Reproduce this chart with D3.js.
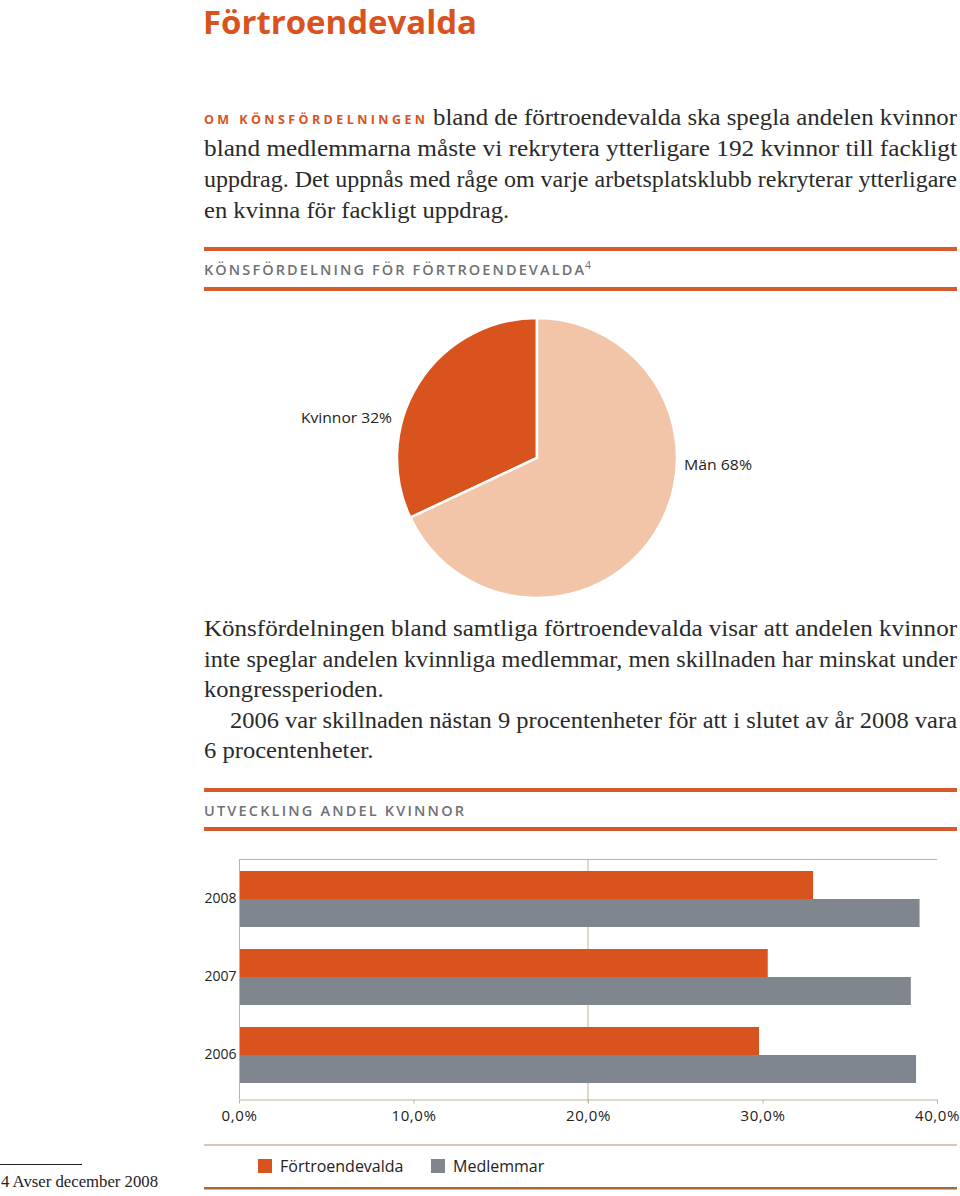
<!DOCTYPE html>
<html><head><meta charset="utf-8">
<script src="https://cdn.jsdelivr.net/npm/d3@7"></script>
<style>
body{margin:0;background:#fff;}
svg{display:block;}
</style></head>
<body>
<script>
// ---- data ----
const pieLabels = ["Kvinnor", "Män"];
const pieValues = [32, 68];
const years = ["2008", "2007", "2006"];
const seriesNames = ["Förtroendevalda", "Medlemmar"];
const fortroendevalda = [32.9, 30.3, 29.8];
const medlemmar = [39.0, 38.5, 38.8];
const xTicks = [0, 10, 20, 30, 40];

const ORANGE = "#d9531e", GRAY = "#7f868d", LIGHT = "#f2c4a8", RULE = "#d65a2a", AX = "#bdb398";
const SANS = "'Open Sans', 'Noto Sans', sans-serif";
const SERIF = "'Liberation Serif', 'Times New Roman', serif";

const svg = d3.select("body").append("svg").attr("width", 960).attr("height", 1196);

// Title
svg.append("text").attr("x", 203).attr("y", 34).text("Förtroendevalda")
  .attr("font-family", SANS).attr("font-weight", 700).attr("font-size", 33)
  .attr("fill", ORANGE).attr("textLength", 274).attr("lengthAdjust", "spacingAndGlyphs");

// paragraph 1
svg.append("text").attr("x", 204).attr("y", 124).text("OM KÖNSFÖRDELNINGEN")
  .attr("font-family", SANS).attr("font-weight", 700).attr("font-size", 12.5)
  .attr("fill", ORANGE).attr("textLength", 221).attr("lengthAdjust", "spacing");
function para(lines, x0, ys, opts) {
  lines.forEach((l, i) => {
    const t = svg.append("text").attr("x", l.x != null ? l.x : x0).attr("y", ys[i]).text(l.t)
      .attr("font-family", SERIF).attr("font-size", opts.size).attr("fill", "#2a2a2a");
    if (l.w) t.attr("textLength", l.w).attr("lengthAdjust", "spacingAndGlyphs");
    else t.attr("transform", `translate(${(l.x != null ? l.x : x0)},0) scale(1.07,1) translate(${-(l.x != null ? l.x : x0)},0)`);
  });
}
para([
  {x: 433, t: "bland de förtroendevalda ska spegla andelen kvinnor", w: 524},
  {t: "bland medlemmarna måste vi rekrytera ytterligare 192 kvinnor till fackligt", w: 753},
  {t: "uppdrag. Det uppnås med råge om varje arbetsplatsklubb rekryterar ytterligare", w: 753},
  {t: "en kvinna för fackligt uppdrag."}
], 204, [125, 156, 187, 218], {size: 23});

// section header helper
function section(y1, y2, label, w, sup) {
  [y1, y2].forEach(y => svg.append("rect").attr("x", 204).attr("y", y - 2).attr("width", 753).attr("height", 4).attr("fill", RULE));
  svg.append("text").attr("x", 204).attr("y", (y1 + y2) / 2 + 6)
    .attr("font-family", SANS).attr("font-size", 14.5).attr("font-weight", 600).attr("fill", "#707174")
    .attr("textLength", w).attr("lengthAdjust", "spacing").text(label);
  if (sup) {
    svg.append("text").attr("x", 204 + w + 1).attr("y", (y1 + y2) / 2)
      .attr("font-family", SANS).attr("font-size", 10.5).attr("fill", "#707174").text(sup);
  }
}
section(249, 289, "KÖNSFÖRDELNING FÖR FÖRTROENDEVALDA", 380, "4");

// ---- pie ----
const cx = 537, cy = 458, R = 140;
const pieData = [
  {label: pieLabels[0], value: pieValues[0], start: -2 * Math.PI * pieValues[0] / 100, end: 0, color: ORANGE},
  {label: pieLabels[1], value: pieValues[1], start: 0, end: 2 * Math.PI * pieValues[1] / 100, color: LIGHT}
];
const arc = d3.arc().innerRadius(0).outerRadius(R);
const pg = svg.append("g").attr("transform", `translate(${cx},${cy})`);
pg.selectAll("path").data(pieData).join("path")
  .attr("d", d => arc({startAngle: d.start, endAngle: d.end}))
  .attr("fill", d => d.color).attr("stroke", "#fff").attr("stroke-width", 2.5);
svg.append("text").attr("x", 301).attr("y", 423).text(`${pieLabels[0]} ${pieValues[0]}%`)
  .attr("font-family", SANS).attr("font-size", 15).attr("font-weight", 500).attr("fill", "#222")
  .attr("textLength", 91).attr("lengthAdjust", "spacingAndGlyphs");
svg.append("text").attr("x", 684).attr("y", 470).text(`${pieLabels[1]} ${pieValues[1]}%`)
  .attr("font-family", SANS).attr("font-size", 15).attr("font-weight", 500).attr("fill", "#222")
  .attr("textLength", 68).attr("lengthAdjust", "spacingAndGlyphs");

// paragraph 2
para([
  {t: "Könsfördelningen bland samtliga förtroendevalda visar att andelen kvinnor", w: 753},
  {t: "inte speglar andelen kvinnliga medlemmar, men skillnaden har minskat under", w: 753},
  {t: "kongressperioden."},
  {x: 230, t: "2006 var skillnaden nästan 9 procentenheter för att i slutet av år 2008 vara", w: 727},
  {t: "6 procentenheter."}
], 204, [636, 667, 697, 728, 758], {size: 23});

section(790, 829, "UTVECKLING ANDEL KVINNOR", 260);

// ---- bar chart ----
const x = d3.scaleLinear().domain([0, 40]).range([239, 937]);
const y0 = d3.scaleBand().domain(years).range([860, 1094]).padding(0);
const y1 = d3.scaleBand().domain(seriesNames).range([0, y0.bandwidth()]).paddingInner(0).paddingOuter(0.393);
const bg = svg.append("g");
bg.append("line").attr("x1", x(0)).attr("x2", x(40)).attr("y1", 859.5).attr("y2", 859.5).attr("stroke", AX);
bg.append("line").attr("x1", x(20)).attr("x2", x(20)).attr("y1", 859).attr("y2", 1103).attr("stroke", AX);
const rows = years.map((yr, i) => ({yr, vals: [fortroendevalda[i], medlemmar[i]]}));
const colors = [ORANGE, GRAY];
const grp = bg.selectAll("g.yr").data(rows).join("g").attr("transform", d => `translate(0,${y0(d.yr)})`);
grp.selectAll("rect").data(d => d.vals.map((v, j) => ({v, s: seriesNames[j], c: colors[j]}))).join("rect")
  .attr("x", x(0)).attr("y", d => y1(d.s)).attr("height", y1.bandwidth())
  .attr("width", d => x(d.v) - x(0)).attr("fill", d => d.c);
const xAxis = d3.axisBottom(x).tickValues(xTicks).tickSize(4).tickSizeOuter(0)
  .tickFormat(d => d3.format(".1f")(d).replace(".", ",") + "%");
const xa = svg.append("g").attr("transform", "translate(0,1099.5)").call(xAxis);
xa.select(".domain").attr("stroke", AX);
xa.selectAll(".tick line").attr("stroke", AX);
xa.selectAll(".tick text").attr("font-family", SANS).attr("font-size", 15).attr("fill", "#222").attr("dy", "0.1em").attr("y", 20)
  .attr("letter-spacing", 0.6);
const yAxis = d3.axisLeft(y0).tickSize(0).tickPadding(3);
const ya = svg.append("g").attr("transform", "translate(239.5,0)").call(yAxis);
ya.select(".domain").attr("stroke", AX).attr("d", "M0,859V1099");
ya.selectAll(".tick text").attr("font-family", SANS).attr("font-size", 14).attr("fill", "#222");

// legend
svg.append("line").attr("x1", 204).attr("x2", 957).attr("y1", 1145).attr("y2", 1145).attr("stroke", "#c9b99f").attr("stroke-width", 1.5);
const lg = svg.append("g");
const legX = [258, 431];
seriesNames.forEach((n, i) => {
  lg.append("rect").attr("x", legX[i]).attr("y", 1159).attr("width", 14).attr("height", 14).attr("fill", colors[i]);
  lg.append("text").attr("x", legX[i] + 22).attr("y", 1172).text(n)
    .attr("font-family", SANS).attr("font-size", 16).attr("fill", "#222");
});
svg.append("rect").attr("x", 204).attr("y", 1187).attr("width", 753).attr("height", 2.5).attr("fill", "#a8693a");

// footnote
svg.append("line").attr("x1", 0).attr("x2", 82).attr("y1", 1164.5).attr("y2", 1164.5).attr("stroke", "#222");
svg.append("text").attr("x", 1).attr("y", 1187).text("4 Avser december 2008")
  .attr("font-family", SERIF).attr("font-size", 17).attr("fill", "#222")
  .attr("textLength", 157).attr("lengthAdjust", "spacingAndGlyphs");
</script>
</body></html>
